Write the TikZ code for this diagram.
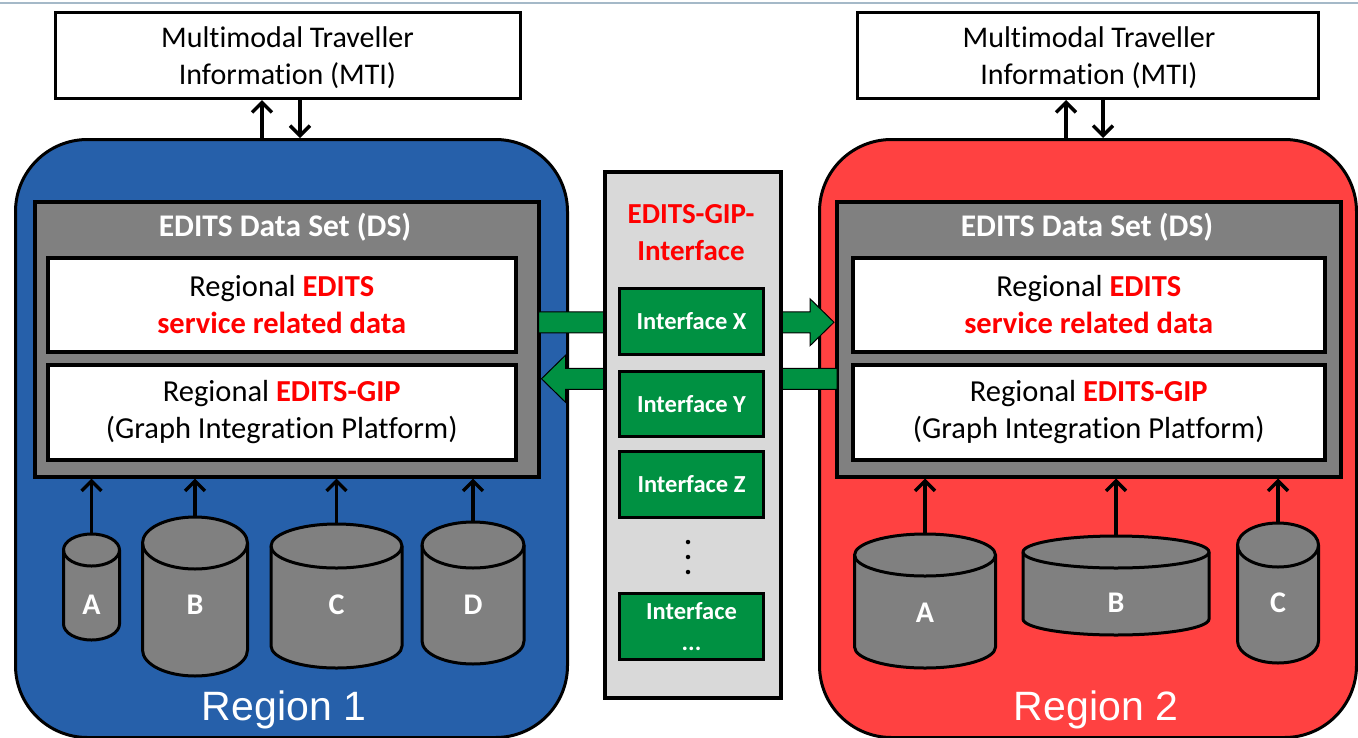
\documentclass[tikz,border=0pt]{standalone}
\usepackage{fontspec}
\setmainfont{Carlito}[Ligatures={NoCommon}]
\newfontfamily\arialf{Liberation Sans}
\usetikzlibrary{arrows.meta,calc}
\definecolor{regblue}{RGB}{38,96,170}
\definecolor{regred}{RGB}{255,65,65}
\definecolor{dsgrey}{RGB}{128,128,128}
\definecolor{igrey}{RGB}{217,217,217}
\definecolor{igreen}{RGB}{0,145,66}
\definecolor{toplinec}{RGB}{165,185,200}
\definecolor{edred}{RGB}{255,0,0}
\tikzset{
  mtibox/.style={draw=black, line width=3pt, fill=white, inner sep=0pt, align=center,
    minimum width=465pt, minimum height=86pt, font=\fontsize{30}{37}\selectfont},
  regionbox/.style={draw=black, line width=3pt, rounded corners=72pt, inner sep=0pt,
    anchor=north west, minimum width=538pt, minimum height=598pt},
  regionlabel/.style={text=white, inner sep=0pt, font=\arialf\fontsize{41}{41}\selectfont},
  dsbox/.style={draw=black, line width=3.5pt, fill=dsgrey, inner sep=0pt, anchor=north west,
    minimum width=504pt, minimum height=275pt},
  dstitle/.style={text=white, inner sep=0pt, font=\bfseries\fontsize{31.5}{37}\selectfont},
  whitebox/.style={draw=black, line width=3.5pt, fill=white, inner sep=0pt, anchor=north west,
    align=center, font=\fontsize{30.5}{37}\selectfont},
  ifacebox/.style={draw=black, line width=4pt, fill=igrey, inner sep=0pt, anchor=north west,
    minimum width=176pt, minimum height=526pt},
  ifacetitle/.style={text=edred, inner sep=0pt, align=center, font=\bfseries\fontsize{29}{37}\selectfont},
  greenbox/.style={draw=black, line width=3pt, fill=igreen, inner sep=0pt, anchor=north west,
    minimum width=144pt, minimum height=66pt, text=white, align=center,
    font=\bfseries\fontsize{24.5}{31}\selectfont},
  smallarrow/.style={draw=black, line width=3.4pt, -{Straight Barb[length=10pt,width=20pt]}},
  fatarrow/.style={draw=black, line width=1pt, fill=igreen, line join=miter},
  cylbody/.style={draw=black, line width=3pt, fill=dsgrey},
  cyllabel/.style={text=white, inner sep=0pt, font=\bfseries\fontsize{30}{30}\selectfont},
  dotmark/.style={circle, fill=black, inner sep=0pt, minimum size=4.5pt},
  pics/dbcyl/.style n args={5}{code={
    \filldraw[cylbody] (-#1,#2) -- (-#1,#3-#2)
      arc[start angle=180, end angle=0, x radius=#1, y radius=#2]
      -- (#1,#2)
      arc[start angle=0, end angle=-180, x radius=#1, y radius=#2] -- cycle;
    \draw[cylbody, fill=none] (-#1,#2) arc[start angle=180, end angle=0, x radius=#1, y radius=#2];
    \coordinate (-top) at (0,0);
    \node[cyllabel] (-lbl) at (0,#5) {#4};
  }}
}
\begin{document}
\begin{tikzpicture}[x=1pt, y=-1pt]
\useasboundingbox (0,0) rectangle (1358,737);
\clip (0,0) rectangle (1358,737);
\fill[white] (0,0) rectangle (1358,737);
\draw[toplinec, line width=2pt] (0,3) -- (1358,3);

% MTI boxes
\node[mtibox, minimum width=465pt] (mti1) at (287.5,55.5) {};
\node[mtibox, minimum width=461pt] (mti2) at (1088,55.5) {};
\node[mtibox, draw=none, fill=none, minimum width=0pt, minimum height=0pt] (mti1t) at (287.5,58) {Multimodal Traveller\\Information (MTI)};
\node[mtibox, draw=none, fill=none, minimum width=0pt, minimum height=0pt] (mti2t) at (1089,58) {Multimodal Traveller\\Information (MTI)};

% regions
\node[regionbox, fill=regblue, minimum width=552pt] (reg1) at (14,138) {};
\node[regionbox, fill=regred, minimum width=537pt] (reg2) at (818,138) {};
\node[regionlabel] (reg1lbl) at (284,710) {Region 1};
\node[regionlabel] (reg2lbl) at (1096,710) {Region 2};

% MTI arrows
\draw[smallarrow] (262,0 |- reg1.north) -- (262,0 |- mti1.south);
\draw[smallarrow] (300,0 |- mti1.south) -- (300,0 |- reg1.north);
\draw[smallarrow] (1066,0 |- reg2.north) -- (1066,0 |- mti2.south);
\draw[smallarrow] (1103,0 |- mti2.south) -- (1103,0 |- reg2.north);

% data set boxes
\node[dsbox] (ds1) at (33,200) {};
\node[dsbox] (ds2) at (835,200) {};
\node[dstitle] (ds1t) at (285,227) {EDITS Data Set (DS)};
\node[dstitle] (ds2t) at (1087,227) {EDITS Data Set (DS)};

\node[whitebox, minimum width=468pt, minimum height=94pt] (srv1) at (46,256)
  {Regional \textcolor{edred}{\textbf{EDITS}}\\\textcolor{edred}{\textbf{service related data}}};
\node[whitebox, minimum width=468pt, minimum height=95pt] (gip1) at (46,363)
  {Regional \textcolor{edred}{\textbf{EDITS-GIP}}\\(Graph Integration Platform)};
\node[whitebox, minimum width=472pt, minimum height=94pt] (srv2) at (851,256)
  {Regional \textcolor{edred}{\textbf{EDITS}}\\\textcolor{edred}{\textbf{service related data}}};
\node[whitebox, minimum width=472pt, minimum height=95pt] (gip2) at (851,363)
  {Regional \textcolor{edred}{\textbf{EDITS-GIP}}\\(Graph Integration Platform)};

% cylinders region 1
\pic (c1a) at (91.5,534) {dbcyl={28}{16}{106}{A}{71}};
\pic (c1b) at (195,517) {dbcyl={52.5}{26}{159}{B}{88}};
\pic (c1c) at (336.5,524) {dbcyl={65.5}{22}{144}{C}{81}};
\pic (c1d) at (473,522) {dbcyl={51}{23}{142}{D}{83}};
% cylinders region 2
\pic (c2a) at (925,534) {dbcyl={70.5}{21}{134}{A}{79}};
\pic (c2b) at (1116,536) {dbcyl={93}{16}{99}{B}{67}};
\pic (c2c) at (1278,523) {dbcyl={40.5}{22}{140}{C}{80}};

\foreach \c/\d in {c1a/ds1, c1b/ds1, c1c/ds1, c1d/ds1, c2a/ds2, c2b/ds2, c2c/ds2}
  \draw[smallarrow] (\c-top) -- (\c-top |- \d.south);

% fat arrows
\coordinate (a1s) at ($(ds1.east)+(-2,-17)$);
\coordinate (a1e) at ($(ds2.west)+(-1,-17)$);
\draw[fatarrow] ($(a1s)+(0,-10.5)$) -- ($(a1e)+(-24,-10.5)$) -- ($(a1e)+(-24,-23.5)$)
  -- (a1e) -- ($(a1e)+(-24,23.5)$) -- ($(a1e)+(-24,10.5)$) -- ($(a1s)+(0,10.5)$) -- cycle;
\coordinate (a2s) at ($(ds2.west)+(2,39.5)$);
\coordinate (a2e) at ($(ds1.east)+(1,39.5)$);
\draw[fatarrow] ($(a2s)+(0,-10.5)$) -- ($(a2e)+(24,-10.5)$) -- ($(a2e)+(24,-23.5)$)
  -- (a2e) -- ($(a2e)+(24,23.5)$) -- ($(a2e)+(24,10.5)$) -- ($(a2s)+(0,10.5)$) -- cycle;

% interface column
\node[ifacebox] (iface) at (603,170) {};
\node[ifacetitle] (ifacet) at (691,233) {EDITS-GIP-\\Interface};
\node[greenbox] (ix) at (618,287) {Interface X};
\node[greenbox, minimum height=65pt] (iy) at (618,370) {Interface Y};
\node[greenbox] (iz) at (618,450) {Interface Z};
\node[greenbox] (idots) at (618,592) {Interface\\...};
\node[dotmark] (dt1) at (688,542) {};
\node[dotmark] (dt2) at (688,557) {};
\node[dotmark] (dt3) at (688,572) {};
\end{tikzpicture}
\end{document}
